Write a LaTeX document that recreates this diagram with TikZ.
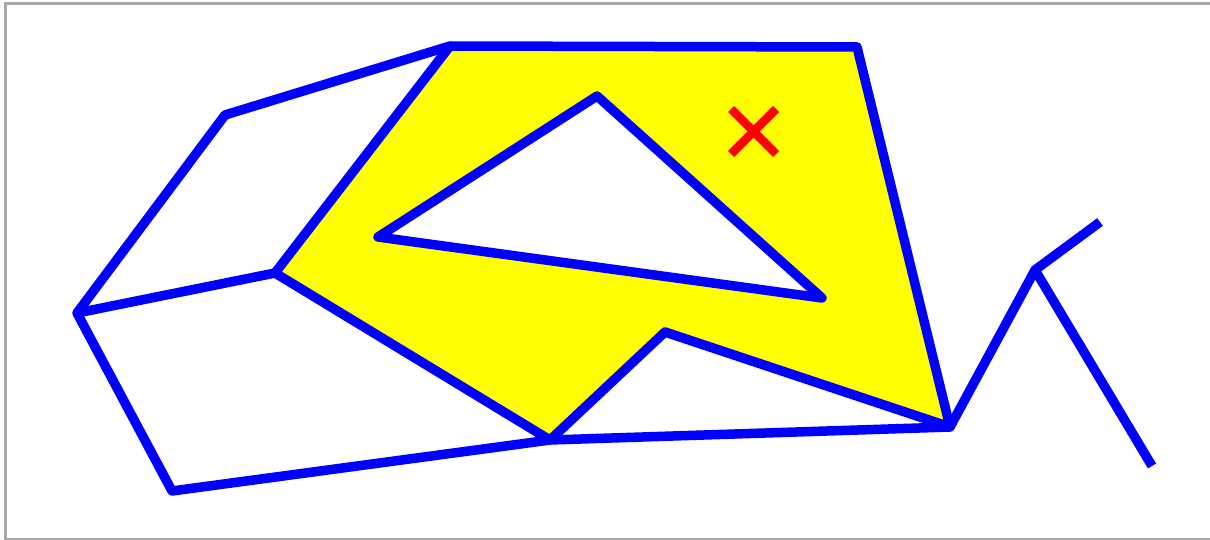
\documentclass[tikz,border=0pt]{standalone}
\definecolor{pblue}{RGB}{0,0,255}
\definecolor{pyellow}{RGB}{255,255,0}
\definecolor{pred}{RGB}{255,0,0}
\definecolor{pgray}{RGB}{169,169,169}
\begin{document}
\begin{tikzpicture}[x=1pt,y=-1pt,
  edge/.style={draw=pblue,line width=9.5pt,line join=round,line cap=butt},
  cross/.style={draw=pred,line width=8.5pt,line cap=butt}]
\useasboundingbox (0,0) rectangle (1210,540);
\draw[pgray,line width=3pt] (5.5,3.5) rectangle (1212,539);
% points
\coordinate (A) at (450,46);
\coordinate (B) at (857,47);
\coordinate (C) at (950,427);
\coordinate (D) at (665,332);
\coordinate (E) at (550,440);
\coordinate (F) at (275,273);
\coordinate (T1) at (597,96);
\coordinate (T2) at (378,237);
\coordinate (T3) at (822,298);
\coordinate (G) at (225,115);
\coordinate (H) at (77,313);
\coordinate (I) at (172,491);
\coordinate (J) at (1035,270);
\coordinate (K) at (1100,222);
\coordinate (L) at (1152,466);
\fill[pyellow,even odd rule] (A) -- (B) -- (C) -- (D) -- (E) -- (F) -- cycle
  (T1) -- (T2) -- (T3) -- cycle;
\draw[edge] (A) -- (B) -- (C) -- (D) -- (E) -- (F) -- cycle;
\draw[edge] (T1) -- (T2) -- (T3) -- cycle;
\draw[edge] (A) -- (G) -- (H) -- (F);
\draw[edge] (H) -- (I) -- (E) -- (C);
\draw[edge] (C) -- (J) -- (K);
\draw[edge] (J) -- (L);
\draw[cross] (731,109) -- (776,154);
\draw[cross] (776,109) -- (731,154);
\end{tikzpicture}
\end{document}
